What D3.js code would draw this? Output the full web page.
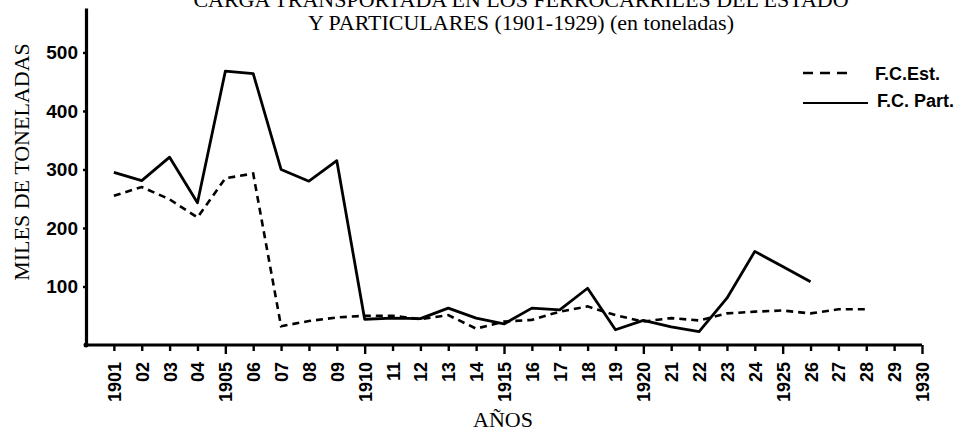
<!DOCTYPE html>
<html><head><meta charset="utf-8">
<script src="https://cdn.jsdelivr.net/npm/d3@7"></script>
<style>body{margin:0;background:#fff}</style>
</head><body>
<svg id="chart" width="967" height="432"></svg>
<script>
// ---- data ----
const titleLines = ["CARGA TRANSPORTADA EN LOS FERROCARRILES DEL ESTADO", "Y PARTICULARES (1901-1929) (en toneladas)"];
const tickYears = d3.range(1901, 1931);
const tickLabels = ["1901","02","03","04","1905","06","07","08","09","1910","11","12","13","14","1915","16","17","18","19","1920","21","22","23","24","1925","26","27","28","29","1930"];
const yTicks = [100, 200, 300, 400, 500];
const partYears = d3.range(1901, 1927);
const fcPart = [295, 281, 321, 243, 468, 464, 300, 280, 315, 44, 46, 45, 63, 46, 36, 63, 60, 97, 26, 42, 31, 23, 80, 160, 134, 108];
const estYears = d3.range(1901, 1929);
const fcEst = [255, 270, 249, 218, 285, 293, 32, 41, 47, 50, 50, 44, 51, 28, 40, 43, 57, 66, 51, 40, 46, 42, 54, 57, 59, 54, 61, 61];
const seriesNames = ["F.C.Est.", "F.C. Part."];

// ---- chart ----
const svg = d3.select("#chart");
const x = d3.scaleLinear().domain([1900, 1930]).range([86, 922]);
const y = d3.scaleLinear().domain([0, 576]).range([345, 8]);

// title
svg.append("g").selectAll("text").data(titleLines).join("text")
  .attr("x", 521).attr("y", (d, i) => i === 0 ? 7 : 30)
  .attr("text-anchor", "middle")
  .style("font-family", "'Liberation Serif', serif").style("font-size", "22px")
  .text(d => d);

// x axis
const xAxis = svg.append("g").attr("transform", "translate(0,345)")
  .call(d3.axisBottom(x).tickValues(tickYears).tickFormat((d, i) => tickLabels[i]).tickSize(6).tickSizeOuter(0));
xAxis.select(".domain").attr("stroke-width", 3.2).attr("d", `M${x(1900)},0H${x(1930)}`);
xAxis.selectAll(".tick line").attr("stroke-width", 2.4).attr("y2", d => d % 5 === 0 ? 9 : 6);
xAxis.selectAll(".tick text")
  .attr("transform", "translate(0,17) rotate(-90)")
  .attr("x", 0).attr("y", 0).attr("dy", "0.36em")
  .attr("text-anchor", "end")
  .style("font-family", "'Liberation Sans', Arial, sans-serif").style("font-size", "18px").style("font-weight", "bold");

// y axis
const yAxis = svg.append("g").attr("transform", `translate(${x(1900)},0)`)
  .call(d3.axisLeft(y).tickValues(yTicks).tickSize(3).tickSizeOuter(0));
yAxis.select(".domain").attr("stroke-width", 3.2);
yAxis.selectAll(".tick line").attr("stroke-width", 2.4);
yAxis.selectAll(".tick text").attr("x", -8)
  .style("font-family", "'Liberation Sans', Arial, sans-serif").style("font-size", "19px").style("font-weight", "bold");
svg.append("circle").attr("cx", x(1900)).attr("cy", y(0)).attr("r", 2.5).attr("fill", "#000");

// axis titles
svg.append("text").attr("transform", "translate(29,162) rotate(-90)")
  .attr("text-anchor", "middle")
  .style("font-family", "'Liberation Serif', serif").style("font-size", "22px")
  .text("MILES DE TONELADAS");
svg.append("text").attr("x", 503).attr("y", 427).attr("text-anchor", "middle")
  .style("font-family", "'Liberation Serif', serif").style("font-size", "22px")
  .text("AÑOS");

// lines
const line = d3.line().x(d => x(d[0])).y(d => y(d[1]));
svg.append("path").datum(estYears.map((yr, i) => [yr, fcEst[i]]))
  .attr("d", line).attr("fill", "none").attr("stroke", "#000")
  .attr("stroke-width", 2.6).attr("stroke-dasharray", "7,5");
svg.append("path").datum(partYears.map((yr, i) => [yr, fcPart[i]]))
  .attr("d", line).attr("fill", "none").attr("stroke", "#000")
  .attr("stroke-width", 2.8).attr("stroke-linejoin", "round");

// legend
const lg = svg.append("g");
lg.append("line").attr("x1", 803).attr("x2", 850).attr("y1", 73).attr("y2", 73)
  .attr("stroke", "#000").attr("stroke-width", 2.4).attr("stroke-dasharray", "10,7");
lg.append("line").attr("x1", 803).attr("x2", 868).attr("y1", 103).attr("y2", 103)
  .attr("stroke", "#000").attr("stroke-width", 2.2);
lg.selectAll("text").data(seriesNames).join("text")
  .attr("x", (d, i) => i === 0 ? 875 : 877).attr("y", (d, i) => i === 0 ? 80 : 107)
  .style("font-family", "'Liberation Sans', Arial, sans-serif").style("font-size", "18px").style("font-weight", "bold")
  .text(d => d);
</script>
</body></html>
